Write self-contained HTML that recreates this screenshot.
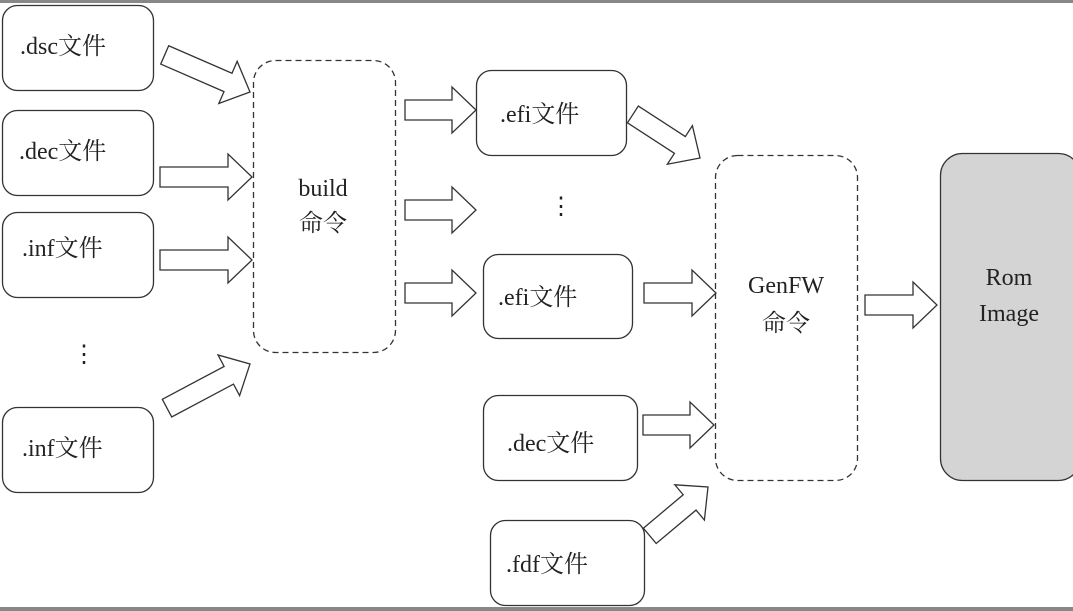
<!DOCTYPE html>
<html><head><meta charset="utf-8"><style>
html,body{margin:0;padding:0;background:#fff;}
svg{display:block;}
text{font-family:"Liberation Serif","Noto Serif CJK SC",serif;font-size:24px;fill:#222;}
</style></head><body>
<svg width="1073" height="611" viewBox="0 0 1073 611" xmlns="http://www.w3.org/2000/svg">
<line x1="0" y1="1.5" x2="1073" y2="1.5" stroke="#888" stroke-width="3"/>
<rect x="0" y="607" width="1073" height="4" fill="#888"/>
<g fill="#fff" stroke="#333" stroke-width="1.3">
<rect x="2.5" y="5.5" width="151" height="85" rx="15"/>
<rect x="2.5" y="110.5" width="151" height="85" rx="15"/>
<rect x="2.5" y="212.5" width="151" height="85" rx="15"/>
<rect x="2.5" y="407.5" width="151" height="85" rx="15"/>
<rect x="476.5" y="70.5" width="150" height="85" rx="15"/>
<rect x="483.5" y="254.5" width="149" height="84" rx="15"/>
<rect x="483.5" y="395.5" width="154" height="85" rx="15"/>
<rect x="490.5" y="520.5" width="154" height="85" rx="15"/>
<rect x="940.5" y="153.5" width="140" height="327" rx="22" fill="#d4d4d4"/>
<rect x="253.5" y="60.5" width="142" height="292" rx="22" stroke-dasharray="6,4"/>
<rect x="715.5" y="155.5" width="142" height="325" rx="22" stroke-dasharray="6,4"/>
</g>
<g fill="#fff" stroke="#333" stroke-width="1.3">
<g transform="translate(250,92) rotate(23.5)"><polygon points="-93,-10 -24,-10 -24,-23 0,0 -24,23 -24,10 -93,10"/></g>
<g transform="translate(252,177)"><polygon points="-92,-10 -24,-10 -24,-23 0,0 -24,23 -24,10 -92,10"/></g>
<g transform="translate(252,260)"><polygon points="-92,-10 -24,-10 -24,-23 0,0 -24,23 -24,10 -92,10"/></g>
<g transform="translate(250,364) rotate(-28)"><polygon points="-94,-10 -24,-10 -24,-23 0,0 -24,23 -24,10 -94,10"/></g>
<g transform="translate(476,110)"><polygon points="-71,-10 -24,-10 -24,-23 0,0 -24,23 -24,10 -71,10"/></g>
<g transform="translate(476,210)"><polygon points="-71,-10 -24,-10 -24,-23 0,0 -24,23 -24,10 -71,10"/></g>
<g transform="translate(476,293)"><polygon points="-71,-10 -24,-10 -24,-23 0,0 -24,23 -24,10 -71,10"/></g>
<g transform="translate(700,158) rotate(33)"><polygon points="-80,-10 -24,-10 -24,-23 0,0 -24,23 -24,10 -80,10"/></g>
<g transform="translate(716,293)"><polygon points="-72,-10 -24,-10 -24,-23 0,0 -24,23 -24,10 -72,10"/></g>
<g transform="translate(714,425)"><polygon points="-71,-10 -24,-10 -24,-23 0,0 -24,23 -24,10 -71,10"/></g>
<g transform="translate(708,487) rotate(-40)"><polygon points="-76,-10 -24,-10 -24,-23 0,0 -24,23 -24,10 -76,10"/></g>
<g transform="translate(937,305)"><polygon points="-72,-10 -24,-10 -24,-23 0,0 -24,23 -24,10 -72,10"/></g>
</g>
<text x="20" y="54">.dsc文件</text>
<text x="19" y="159">.dec文件</text>
<text x="22" y="256">.inf文件</text>
<text x="22" y="456">.inf文件</text>
<text x="72" y="362">⋮</text>
<text x="500" y="122">.efi文件</text>
<text x="549" y="214">⋮</text>
<text x="498" y="305">.efi文件</text>
<text x="507" y="451">.dec文件</text>
<text x="506" y="572">.fdf文件</text>
<text x="323" y="196" text-anchor="middle">build</text>
<text x="323" y="231" text-anchor="middle">命令</text>
<text x="786" y="293" text-anchor="middle">GenFW</text>
<text x="786" y="331" text-anchor="middle">命令</text>
<text x="1009" y="285" text-anchor="middle">Rom</text>
<text x="1009" y="321" text-anchor="middle">Image</text>
</svg>
</body></html>
